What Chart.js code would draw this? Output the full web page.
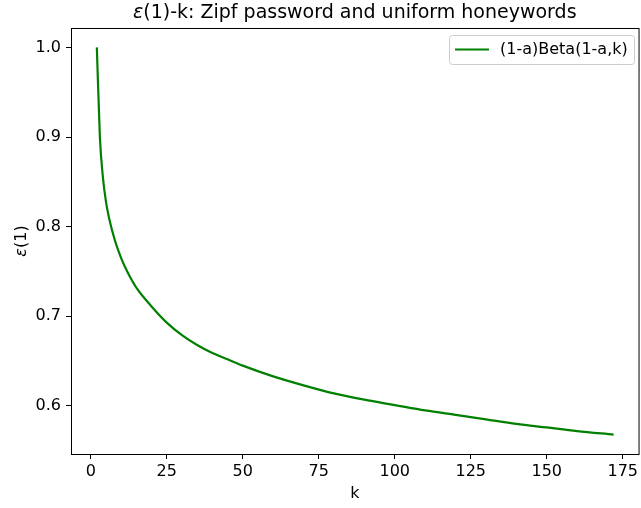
<!DOCTYPE html>
<html lang="en">
<head>
    <meta charset="UTF-8">
    <title>epsilon(1)-k</title>
    <script src="https://cdn.jsdelivr.net/npm/chart.js"></script>
    <style>
        html, body { margin: 0; padding: 0; background: #fff; }
        #wrap { width: 641px; height: 508px; }
    </style>
</head>
<body>
    <div id="wrap"><canvas id="chart"></canvas></div>

    <script>
        // Data
        const kValues = [2, 3, 4, 5, 6, 8, 10, 12, 15, 20, 25, 30, 35, 40, 45, 50, 60, 70, 80,
                         90, 100, 110, 120, 130, 140, 150, 160, 172];
        const epsValues = [1.0, 0.900, 0.855, 0.828, 0.810, 0.784, 0.765, 0.750, 0.732, 0.711,
                           0.693, 0.679, 0.668, 0.659, 0.652, 0.645, 0.633, 0.623, 0.614,
                           0.607, 0.601, 0.595, 0.590, 0.585, 0.580, 0.576, 0.572, 0.568];
        const xTicks = [0, 25, 50, 75, 100, 125, 150, 175];
        const yTicks = [0.6, 0.7, 0.8, 0.9, 1.0];
        const seriesLabel = '(1-a)Beta(1-a,k)';
        const titleRest = '(1)-k: Zipf password and uniform honeywords';
        const yTitleRest = '(1)';

        const FONT = 'DejaVu Sans';

        // draws "ε" in italic then the rest upright, centred on x
        function mathText(ctx, rest, size, cx, cy) {
            const it = 'italic ' + size + 'px "' + FONT + '"';
            const up = size + 'px "' + FONT + '"';
            ctx.font = it;
            const w1 = ctx.measureText('ε').width;
            ctx.font = up;
            const w2 = ctx.measureText(rest).width;
            let x = cx - (w1 + w2) / 2;
            ctx.textAlign = 'left';
            ctx.textBaseline = 'middle';
            ctx.font = it;
            ctx.fillText('ε', x, cy);
            ctx.font = up;
            ctx.fillText(rest, x + w1, cy);
        }

        // matplotlib-like frame, title, y label and boxed legend
        const framePlugin = {
            id: 'frame',
            afterDraw(chart) {
                const { ctx, chartArea: a } = chart;
                ctx.save();
                ctx.strokeStyle = '#000';
                ctx.lineWidth = 1;
                ctx.strokeRect(a.left + 0.5, a.top + 0.5, a.right - a.left, a.bottom - a.top);

                ctx.fillStyle = '#000';
                mathText(ctx, titleRest, 19, (a.left + a.right) / 2, 13);

                ctx.save();
                ctx.translate(22, (a.top + a.bottom) / 2);
                ctx.rotate(-Math.PI / 2);
                mathText(ctx, yTitleRest, 16, 0, 0);
                ctx.restore();

                // legend box
                const ds = chart.data.datasets[0];
                const bx = 449, by = 35, bw = 185, bh = 29;
                ctx.fillStyle = 'rgba(255,255,255,0.8)';
                ctx.strokeStyle = '#cccccc';
                ctx.lineWidth = 1;
                ctx.beginPath();
                ctx.roundRect(bx + 0.5, by + 0.5, bw, bh, 3);
                ctx.fill();
                ctx.stroke();
                ctx.strokeStyle = ds.borderColor;
                ctx.lineWidth = ds.borderWidth;
                ctx.beginPath();
                ctx.moveTo(455, by + 14.5);
                ctx.lineTo(489, by + 14.5);
                ctx.stroke();
                ctx.fillStyle = '#000';
                ctx.font = '16px "' + FONT + '"';
                ctx.textAlign = 'left';
                ctx.textBaseline = 'middle';
                ctx.fillText(ds.label, 500, by + 15);
                ctx.restore();
            }
        };

        new Chart(document.getElementById('chart'), {
            type: 'line',
            data: {
                datasets: [{
                    label: seriesLabel,
                    data: kValues.map((k, i) => ({ x: k, y: epsValues[i] })),
                    borderColor: '#008000',
                    borderWidth: 2.2,
                    pointRadius: 0,
                    fill: false,
                    cubicInterpolationMode: 'monotone'
                }]
            },
            options: {
                responsive: true,
                maintainAspectRatio: false,
                animation: false,
                layout: { padding: { left: 0, right: 0, top: 28, bottom: 0 } },
                plugins: {
                    legend: { display: false },
                    tooltip: { enabled: false },
                    title: { display: false }
                },
                scales: {
                    x: {
                        type: 'linear',
                        min: -6.5,
                        max: 180.2,
                        afterBuildTicks: s => { s.ticks = xTicks.map(v => ({ value: v })); },
                        afterFit: s => { s.height = 54; },
                        grid: { display: true, drawOnChartArea: false, tickLength: 5, tickColor: '#000' },
                        border: { display: true, color: '#000', width: 1 },
                        ticks: { color: '#000', padding: 3, maxRotation: 0, font: { family: FONT, size: 16 } },
                        title: {
                            display: true, text: 'k', color: '#000',
                            font: { family: FONT, size: 16 },
                            padding: { top: 0, bottom: 5 }
                        }
                    },
                    y: {
                        type: 'linear',
                        min: 0.5464,
                        max: 1.0216,
                        afterBuildTicks: s => { s.ticks = yTicks.map(v => ({ value: v })); },
                        afterFit: s => { s.width = 71; },
                        grid: { display: true, drawOnChartArea: false, tickLength: 5, tickColor: '#000' },
                        border: { display: true, color: '#000', width: 1 },
                        ticks: {
                            color: '#000', padding: 5, font: { family: FONT, size: 16 },
                            callback: v => v.toFixed(1)
                        },
                        title: { display: false }
                    }
                }
            },
            plugins: [framePlugin]
        });
    </script>
</body>
</html>
